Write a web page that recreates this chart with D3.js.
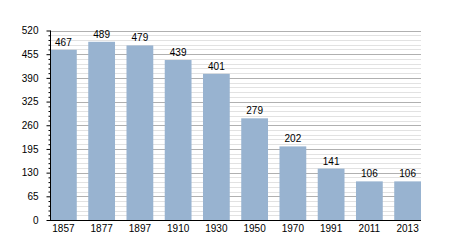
<!DOCTYPE html>
<html>
<head>
<meta charset="utf-8">
<script src="https://cdn.jsdelivr.net/npm/d3@7"></script>
<style>
  body { margin: 0; background: #fff; }
  text { font-family: "Liberation Sans", Arial, sans-serif; }
</style>
</head>
<body>
<script>
const years = ['1857', '1877', '1897', '1910', '1930', '1950', '1970', '1991', '2011', '2013'];
const population = [467, 489, 479, 439, 401, 279, 202, 141, 106, 106];
const yTicks = [0, 65, 130, 195, 260, 325, 390, 455, 520];

const w = 450,
  h = 250,
  plotLeft = 50,
  plotRight = 421,
  plotTop = 30.5,
  plotBottom = 220;

const svg = d3.select('body')
  .append('svg')
  .attr('width', w)
  .attr('height', h);

const xScale = d3.scaleBand()
  .domain(years)
  .range([plotLeft, plotRight])
  .paddingInner(0.3)
  .paddingOuter(0);

const yScale = d3.scaleLinear()
  .domain([0, 520])
  .range([plotBottom, plotTop]);

const minor = d3.range(0, 521, 13).filter(v => v % 65 !== 0);

// grid
svg.append('g')
  .selectAll('line')
  .data(minor)
  .enter()
  .append('line')
  .attr('x1', plotLeft)
  .attr('x2', plotRight)
  .attr('y1', d => Math.round(yScale(d)) + 0.5)
  .attr('y2', d => Math.round(yScale(d)) + 0.5)
  .attr('stroke', '#e2e2e2');

svg.append('g')
  .selectAll('line')
  .data(yTicks.slice(1))
  .enter()
  .append('line')
  .attr('x1', plotLeft)
  .attr('x2', plotRight)
  .attr('y1', d => Math.round(yScale(d)) + 0.5)
  .attr('y2', d => Math.round(yScale(d)) + 0.5)
  .attr('stroke', '#b0b0b0');

// bars
svg.selectAll('rect.bar')
  .data(population)
  .enter()
  .append('rect')
  .attr('class', 'bar')
  .attr('x', (d, i) => xScale(years[i]))
  .attr('y', d => yScale(d))
  .attr('width', xScale.bandwidth())
  .attr('height', d => plotBottom - yScale(d))
  .attr('fill', '#98b3d0');

svg.selectAll('text.val')
  .data(population)
  .enter()
  .append('text')
  .attr('class', 'val')
  .attr('x', (d, i) => xScale(years[i]) + xScale.bandwidth() / 2)
  .attr('y', d => yScale(d) - 4)
  .attr('text-anchor', 'middle')
  .attr('font-size', 10)
  .text(d => d);

// y axis
const yAxis = d3.axisLeft(yScale)
  .tickValues(yTicks)
  .tickSize(4)
  .tickPadding(8);

const yG = svg.append('g')
  .attr('transform', `translate(${plotLeft + 0.5}, 0)`)
  .call(yAxis);
yG.select('.domain').attr('stroke', '#000').attr('d', `M0,${plotTop}V${plotBottom}`);
yG.selectAll('text').attr('font-size', 10).attr('font-family', '"Liberation Sans", Arial, sans-serif');

const yMinor = d3.axisLeft(yScale)
  .tickValues(minor)
  .tickSize(2)
  .tickFormat('');
const yMG = svg.append('g')
  .attr('transform', `translate(${plotLeft + 0.5}, 0)`)
  .call(yMinor);
yMG.select('.domain').remove();

// x axis
const xAxis = d3.axisBottom(xScale)
  .tickSize(0)
  .tickPadding(4);
const xG = svg.append('g')
  .attr('transform', `translate(0, ${plotBottom + 0.5})`)
  .call(xAxis);
xG.select('.domain').attr('stroke', '#000').attr('d', `M${plotLeft},0H${plotRight}`);
xG.selectAll('text').attr('font-size', 10).attr('font-family', '"Liberation Sans", Arial, sans-serif');
</script>
</body>
</html>
